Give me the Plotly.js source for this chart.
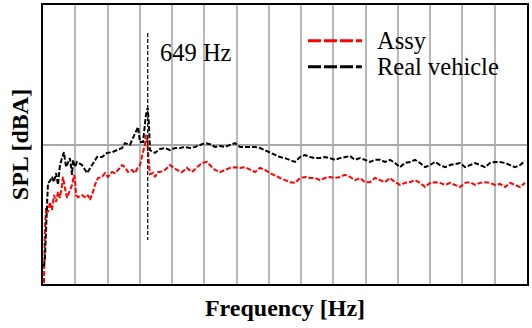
<!DOCTYPE html>
<html>
<head>
<meta charset="utf-8">
<script src="https://cdn.plot.ly/plotly-3.0.1.min.js"></script>
<style>html,body{margin:0;padding:0;background:#fff}#chart{width:532px;height:328px}</style>
</head>
<body>
<div id="chart"></div>
<script>
// Real vehicle (black) — frequency [Hz] and SPL [dBA]
const realFreq = [6,12,25,31,43,56,68,81,93,105,118,130,143,155,167,180,186,198,211,242,273,304,335,366,397,428,459,490,508,539,558,583,589,601,620,638,645,649,657,663,694,725,756,787,818,849,880,911,942,973,1004,1035,1066,1097,1128,1159,1190,1221,1252,1283,1314,1345,1376,1407,1438,1469,1500,1531,1562,1593,1624,1655,1686,1717,1748,1779,1810,1841,1872,1903,1934,1965,1996,2027,2058,2089,2120,2151,2182,2213,2244,2275,2306,2337,2368,2399,2430,2461,2492,2523,2554,2585,2616,2647,2678,2709,2740,2771,2802,2833,2864,2895,2926,2957,2988];
const realSPL = [25.0,27.5,42.6,49.0,49.5,50.7,49.2,51.8,48.4,54.1,56.1,57.8,53.5,55.0,56.1,51.3,55.6,53.5,55.0,54.1,51.8,54.1,56.4,56.4,57.6,57.8,58.4,59.0,60.4,59.9,61.9,64.7,65.0,60.7,60.7,68.5,69.9,70.5,65.6,58.4,57.6,58.7,59.0,58.4,59.0,59.0,59.3,59.0,59.3,59.9,60.4,60.1,59.3,59.6,59.3,59.9,60.4,59.3,59.3,59.3,59.3,59.0,58.4,57.6,57.0,56.4,56.1,55.6,55.0,56.4,57.0,56.4,56.1,56.1,56.4,56.1,55.6,56.1,56.4,56.7,55.6,56.1,55.6,55.0,55.6,55.6,55.0,55.6,54.7,53.5,54.7,55.0,55.6,54.7,53.5,54.1,55.0,54.1,53.5,54.1,54.4,54.7,53.5,54.1,54.7,54.1,53.5,54.7,55.0,55.0,54.7,54.1,53.5,54.1,55.3];

// Assy (red)
const assyFreq = [6,12,19,31,43,56,68,81,93,105,118,124,136,149,161,180,192,198,205,217,242,267,279,291,310,322,341,366,384,403,428,446,465,490,508,527,552,570,589,601,620,632,638,645,651,657,663,682,694,713,725,756,787,806,830,861,892,923,954,985,1016,1035,1066,1097,1128,1159,1190,1221,1252,1283,1314,1345,1376,1407,1438,1469,1500,1531,1562,1593,1624,1655,1686,1717,1748,1779,1810,1841,1872,1903,1934,1965,1996,2027,2058,2089,2120,2151,2182,2213,2244,2275,2306,2337,2368,2399,2430,2461,2492,2523,2554,2585,2616,2647,2678,2709,2740,2771,2802,2833,2864,2895,2926,2957,2988];
const assySPL = [20.3,36.1,41.8,40.6,43.5,41.2,45.5,43.5,46.4,44.7,48.4,50.7,47.5,44.7,46.1,48.4,51.3,50.4,45.5,44.9,45.5,44.7,45.5,44.1,46.4,48.4,50.4,50.7,51.8,50.7,52.1,51.8,52.7,54.1,53.5,52.1,52.7,51.8,53.5,54.1,57.8,59.9,62.7,61.9,57.8,53.5,51.5,51.8,50.7,52.1,52.1,52.7,54.1,53.5,52.7,52.1,53.3,52.1,53.5,54.7,55.0,54.1,52.7,52.1,52.7,53.3,53.5,53.3,53.5,52.7,52.1,53.3,52.7,51.8,51.0,50.4,49.8,49.2,49.0,50.4,50.7,50.4,50.4,49.8,50.4,50.7,50.4,50.7,51.3,50.7,49.8,50.4,49.2,49.2,50.4,49.8,49.2,50.4,49.2,48.4,49.0,49.2,49.8,49.0,47.8,49.0,49.2,49.0,48.4,49.0,48.4,47.8,49.0,49.2,48.4,49.0,49.2,49.0,48.4,48.7,47.8,49.0,48.4,47.8,49.0];

// 649 Hz marker
const markerFreq = [649, 649];
const markerSPL = [92.0, 32.6];
const markerLabel = '649 Hz';

const seriesNames = ['Assy', 'Real vehicle'];
const seriesColors = ['#ff0000', '#000000'];

const serif = 'Liberation Serif, Times New Roman, serif';

const traces = [
  {x: assyFreq, y: assySPL, type: 'scatter', mode: 'lines', name: seriesNames[0],
   line: {color: seriesColors[0], width: 2, dash: '5px,2px'}, showlegend: false},
  {x: realFreq, y: realSPL, type: 'scatter', mode: 'lines', name: seriesNames[1],
   line: {color: seriesColors[1], width: 2, dash: '5px,2px'}, showlegend: false},
  {x: markerFreq, y: markerSPL, type: 'scatter', mode: 'lines', showlegend: false,
   line: {color: '#000', width: 1.2, dash: '4px,2px'}}
];

const layout = {
  width: 532, height: 328,
  margin: {l: 43, r: 5, t: 5, b: 44},
  paper_bgcolor: '#fff', plot_bgcolor: '#fff',
  showlegend: false,
  xaxis: {
    range: [0, 3000], dtick: 200, tick0: 0,
    showticklabels: false, ticks: '',
    showgrid: true, gridcolor: '#b8b8b8', gridwidth: 2,
    zeroline: false, showline: true, mirror: true, linecolor: '#000', linewidth: 2,
    title: {text: 'Frequency [Hz]', font: {family: serif, size: 24, color: '#000', weight: 'bold'}, standoff: 14}
  },
  yaxis: {
    range: [20, 100], dtick: 40, tick0: 20,
    showticklabels: false, ticks: '',
    showgrid: true, gridcolor: '#a8a8a8', gridwidth: 2,
    zeroline: false, showline: true, mirror: true, linecolor: '#000', linewidth: 2,
    title: {text: 'SPL [dBA]', font: {family: serif, size: 24, color: '#000', weight: 'bold'}, standoff: 6}
  },
  shapes: [
    {type: 'line', xref: 'paper', yref: 'paper', x0: 0.5475, x1: 0.659, y0: 0.872, y1: 0.872,
     line: {color: seriesColors[0], width: 3, dash: '13px,3px'}},
    {type: 'line', xref: 'paper', yref: 'paper', x0: 0.5475, x1: 0.659, y0: 0.779, y1: 0.779,
     line: {color: seriesColors[1], width: 3, dash: '13px,3px'}}
  ],
  annotations: [
    {xref: 'paper', yref: 'paper', x: 0.686, y: 0.872, xanchor: 'left', yanchor: 'middle',
     text: seriesNames[0], showarrow: false, font: {family: serif, size: 24.5, color: '#000'}},
    {xref: 'paper', yref: 'paper', x: 0.686, y: 0.779, xanchor: 'left', yanchor: 'middle',
     text: seriesNames[1], showarrow: false, font: {family: serif, size: 24.5, color: '#000'}},
    {xref: 'x', yref: 'y', x: 712, y: 86.5, xanchor: 'left', yanchor: 'middle',
     text: markerLabel, showarrow: false, font: {family: serif, size: 24.5, color: '#000'}}
  ]
};

Plotly.newPlot('chart', traces, layout, {staticPlot: true, displayModeBar: false});
</script>
</body>
</html>
